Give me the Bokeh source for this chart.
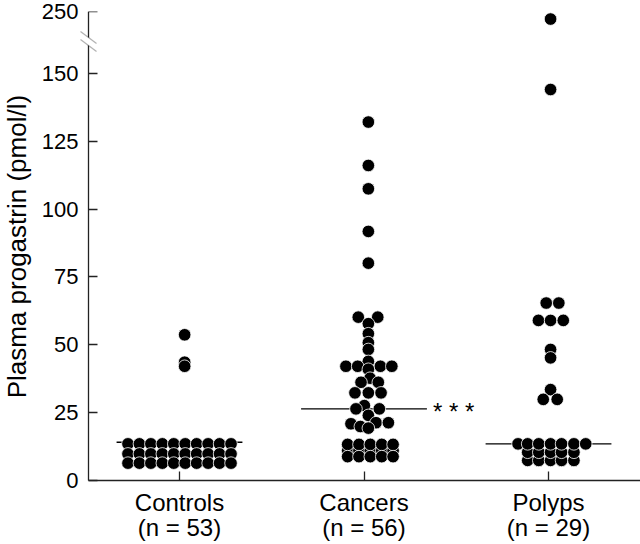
import math
from bokeh.plotting import figure
from bokeh.layouts import row
from bokeh.models import FixedTicker, ColumnDataSource, PolyAnnotation, Range1d, LinearAxis
from bokeh.core.properties import value
from bokeh.embed import file_html
from bokeh.resources import INLINE

# ---------------- data ----------------
groups = ["Controls", "Cancers", "Polyps"]
group_n = ["(n = 53)", "(n = 56)", "(n = 29)"]
y_title = "Plasma progastrin (pmol/l)"
y_ticks = [0, 25, 50, 75, 100, 125, 150, 250]
medians = [14.1, 26.4, 13.5]

controls_val = [
    53.7, 43.6, 42.1,
    13.5, 13.5, 13.5, 13.5, 13.5, 13.5, 13.5, 13.5, 13.5, 13.5,
    9.8, 9.8, 9.8, 9.8, 9.8, 9.8, 9.8, 9.8, 9.8, 9.8,
    6.4, 6.4, 6.4, 6.4, 6.4, 6.4, 6.4, 6.4, 6.4, 6.4,
]
controls_slot = [
    0.45, 0.45, 0.45,
    -4.5, -3.5, -2.5, -1.5, -0.5, 0.5, 1.5, 2.5, 3.5, 4.5,
    -4.5, -3.5, -2.5, -1.5, -0.5, 0.5, 1.5, 2.5, 3.5, 4.5,
    -4.5, -3.5, -2.5, -1.5, -0.5, 0.5, 1.5, 2.5, 3.5, 4.5,
]

cancers_val = [
    132.1, 116.1, 107.5, 91.8, 80.1,
    60.2, 60.2, 57.8, 54.1, 50.8, 48.3, 43.9,
    42.1, 42.1, 42.1, 42.1, 41.0,
    37.7, 36.2, 36.2,
    32.3, 32.3, 32.3,
    27.6, 26.4, 26.4,
    24.0,
    20.9, 19.9, 21.3, 21.3, 19.3,
    11.0, 11.0, 11.0, 11.0, 11.0,
    13.3, 13.3, 13.3, 13.3, 13.3,
    8.8, 8.8, 8.8, 8.8, 8.8,
]
cancers_slot = [
    0.38, 0.38, 0.38, 0.38, 0.38,
    -0.5, 1.2, 0.38, 0.38, 0.38, 0.38, 0.38,
    -1.58, -0.55, 1.43, 2.43, 0.38,
    0.53, -0.26, 1.25,
    -0.79, 0.38, 1.49,
    0.03, -0.7, 1.34,
    0.38,
    -1.14, -0.32, 1.05, 2.13, 0.38,
    -1.43, -0.44, 0.55, 1.55, 2.54,
    -1.43, -0.44, 0.55, 1.55, 2.54,
    -1.43, -0.44, 0.55, 1.55, 2.54,
]

polyps_val = [
    238.0, 144.1,
    65.4, 65.4,
    59.0, 59.0, 59.0,
    48.3, 45.2,
    33.5, 29.9, 29.9,
    7.4, 7.4, 7.4, 7.4, 7.4,
    10.4, 10.4, 10.4, 10.4, 10.4,
    13.5, 13.5, 13.5, 13.5, 13.5, 13.5, 13.5,
]
polyps_slot = [
    0.18, 0.18,
    -0.2, 0.9,
    -0.88, 0.18, 1.29,
    0.18, 0.18,
    0.18, -0.46, 0.76,
    -1.82, -0.85, 0.18, 1.14, 2.22,
    -1.82, -0.85, 0.18, 1.14, 2.22,
    -2.66, -1.82, -0.85, 0.18, 1.14, 2.22, 3.25,
]

# ---------------- scale with axis break (150 -> 250 compressed) ----------------
PX_PER_UNIT = 2.7133
BREAK_AT = 150.0
DISP_250 = 172.8
BREAK_K = (DISP_250 - BREAK_AT) / (250.0 - BREAK_AT)
Y_END = 172.85
Y_START = -64 / PX_PER_UNIT   # room under the zero line for the category labels


def disp(v):
    return v if v <= BREAK_AT else BREAK_AT + (v - BREAK_AT) * BREAK_K


PX_PER_CAT = 184.5
SLOT_W = 11.45 / PX_PER_CAT   # horizontal step between stacked dots
MED_HALF = 0.341              # half-length of median bars
FONT = "Liberation Sans"
X0, X1 = -0.4932, 2.4986
X_START = X0 - 10 / PX_PER_CAT  # room left of the y axis for the break marks

xs, ys = [], []
for gi, (vals, slots) in enumerate([(controls_val, controls_slot),
                                    (cancers_val, cancers_slot),
                                    (polyps_val, polyps_slot)]):
    for v, s in zip(vals, slots):
        xs.append(gi + s * SLOT_W)
        ys.append(disp(v))
src = ColumnDataSource(dict(x=xs, y=ys))

W, H = 640, 544
LAB_W = 33
p = figure(width=W - LAB_W, height=H, output_backend="svg", toolbar_location=None,
           x_range=Range1d(X_START, X1), y_range=Range1d(Y_START, Y_END),
           x_axis_location="above",
           min_border_left=78 - LAB_W, min_border_right=0, min_border_top=11,
           min_border_bottom=0)
p.outline_line_color = None
p.grid.visible = False
p.background_fill_color = "white"
p.border_fill_color = "white"

# median bars
p.segment(x0=[i - MED_HALF for i in range(3)], x1=[i + MED_HALF for i in range(3)],
          y0=medians, y1=medians, line_color="black", line_width=1.3)

# dots
p.scatter("x", "y", source=src, size=12.6, fill_color="black",
          line_color="white", line_width=0.8)

# significance marker
p.text(x=[1 + MED_HALF], y=[medians[1]], text=["* * *"], x_offset=6, y_offset=3,
       text_font=value(FONT), text_font_size="24px", text_color="black",
       text_align="left", text_baseline="alphabetic")

# category labels (two lines) under the zero line
p.text(x=list(range(3)), y=[0, 0, 0], text=groups, y_offset=22,
       text_font=value(FONT), text_font_size="24px", text_color="black",
       text_align="center", text_baseline="alphabetic")
p.text(x=list(range(3)), y=[0, 0, 0], text=group_n, y_offset=47,
       text_font=value(FONT), text_font_size="24px", text_color="black",
       text_align="center", text_baseline="alphabetic")

tick_disp = [disp(t) for t in y_ticks]
tick_text = {d: str(t) for d, t in zip(tick_disp, y_ticks)}

# y tick labels: ordinary left axis at the frame edge (labels only)
ax_lab = p.yaxis[0]
ax_lab.ticker = FixedTicker(ticks=tick_disp)
ax_lab.major_label_overrides = tick_text
ax_lab.axis_line_color = None
ax_lab.major_tick_line_color = None
ax_lab.minor_tick_line_color = None
ax_lab.major_tick_in = 0
ax_lab.major_tick_out = 0
ax_lab.major_label_standoff = 0
ax_lab.major_label_text_font = FONT
ax_lab.major_label_text_font_size = "22px"
ax_lab.major_label_text_color = "black"

# y axis rule and ticks pinned at the left end of the category axis
ax_rule = LinearAxis(ticker=FixedTicker(ticks=tick_disp), fixed_location=X0,
                     bounds=(0, Y_END),
                     major_label_overrides={d: "" for d in tick_disp},
                     major_label_text_font_size="0px", major_label_standoff=0,
                     axis_line_color="#222222", axis_line_width=1.3,
                     major_tick_line_color="#222222", major_tick_line_width=1.3,
                     major_tick_in=9, major_tick_out=0, minor_tick_line_color=None)
p.add_layout(ax_rule, "left")

# x axis pinned at zero (ticks pointing up)
ax_x = p.xaxis[0]
ax_x.ticker = FixedTicker(ticks=[0, 1, 2])
ax_x.major_label_overrides = {i: "" for i in range(3)}
ax_x.major_label_text_font_size = "0px"
ax_x.major_label_standoff = 0
ax_x.fixed_location = 0
ax_x.bounds = (X0, X1)
ax_x.major_tick_in = 0
ax_x.major_tick_out = 9
ax_x.axis_line_color = "#222222"
ax_x.axis_line_width = 1.3
ax_x.major_tick_line_color = "#222222"
ax_x.major_tick_line_width = 1.3
ax_x.minor_tick_line_color = None

# axis break marks
yb = 161.8
dx = 8 / PX_PER_CAT
dy = 6 / PX_PER_UNIT
sep = 4 / PX_PER_UNIT
gap = PolyAnnotation(xs=[X0 - dx, X0 + dx, X0 + dx, X0 - dx],
                     ys=[yb - sep + dy, yb - sep - dy, yb + sep - dy, yb + sep + dy],
                     fill_color="white", fill_alpha=1.0, line_color=None)
p.add_layout(gap)
for off in (-sep, sep):
    p.add_layout(PolyAnnotation(xs=[X0 - dx, X0 + dx], ys=[yb + off + dy, yb + off - dy],
                                fill_alpha=0, line_color="black", line_width=1.3))

# ---------------- y title strip (coordinates in px of the strip) ----------------
lab = figure(width=LAB_W, height=H, output_backend="svg", toolbar_location=None,
             x_range=Range1d(0, LAB_W), y_range=Range1d(H, 0),
             x_axis_location=None, y_axis_location=None,
             min_border_left=0, min_border_right=0, min_border_top=0,
             min_border_bottom=0)
lab.outline_line_color = None
lab.grid.visible = False
lab.background_fill_color = "white"
lab.border_fill_color = "white"
lab.text(x=[16], y=[240], text=[y_title], angle=math.pi / 2,
         text_font=value(FONT), text_font_size="26px", text_color="black",
         text_align="center", text_baseline="middle")

layout = row(lab, p, spacing=0)
open("out.html", "w").write(file_html(layout, INLINE))
